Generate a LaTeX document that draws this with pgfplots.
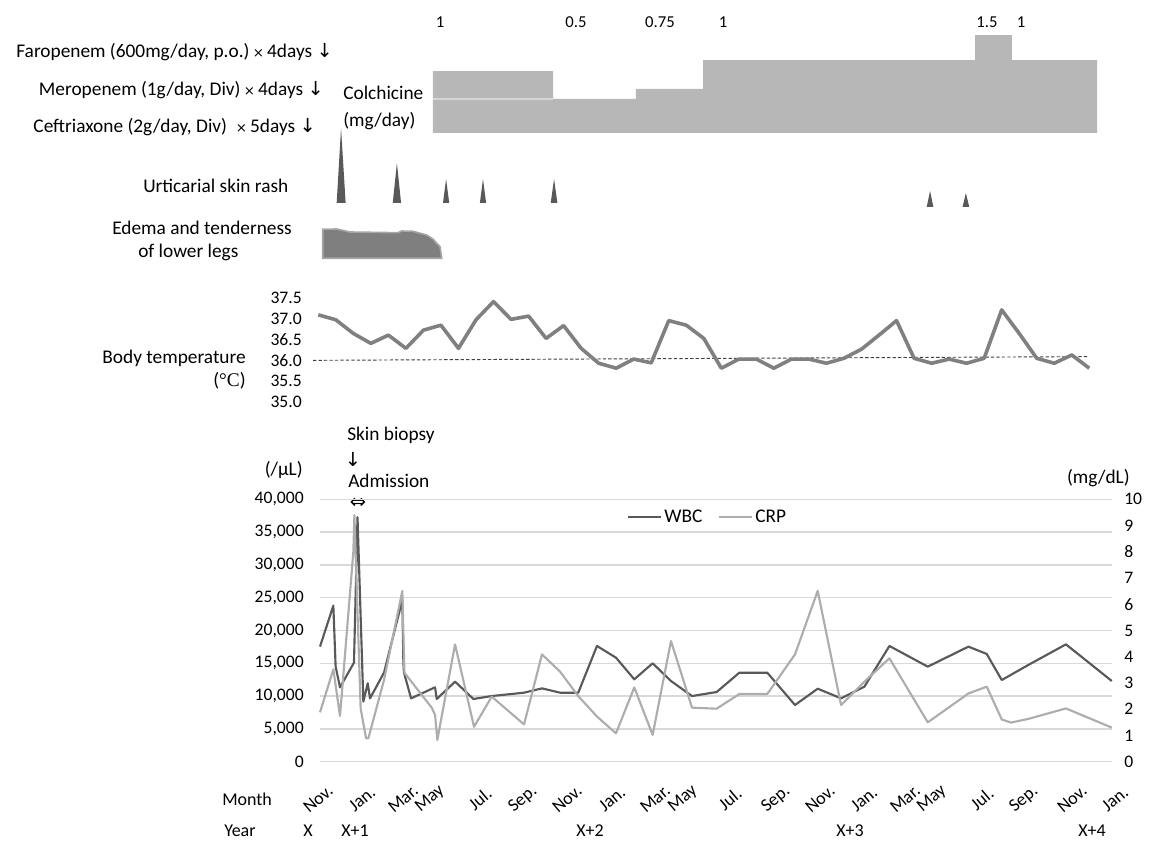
\documentclass[border=0pt]{standalone}
\usepackage{pgfplots}
\pgfplotsset{compat=1.18}
\usepackage{fontspec}
\setmainfont{Carlito}
\newfontfamily\dv{DejaVu Sans}
\newfontfamily\lser{Liberation Serif}
\definecolor{colch}{HTML}{B7B7B7}
\definecolor{colchline}{HTML}{D6D6D6}
\definecolor{rash}{HTML}{595959}
\definecolor{edemaf}{HTML}{7F7F7F}
\definecolor{edemad}{HTML}{A6A6A6}
\definecolor{templ}{HTML}{808080}
\definecolor{trend}{HTML}{404040}
\definecolor{wbc}{HTML}{595959}
\definecolor{crp}{HTML}{ADADAD}
\definecolor{gridc}{HTML}{D9D9D9}
\newcommand\fs{\fontsize{14.5}{17}\selectfont}
\newcommand\tfs{\fontsize{13.2}{15}\selectfont}
\newcommand\ms{\fontsize{13.5}{16}\selectfont}
\newcommand\dfs{\fontsize{12.5}{14}\selectfont}
\begin{document}
\begin{tikzpicture}
\useasboundingbox (0pt,0pt) rectangle (862.5pt,-630.75pt);

\begin{scope}[x=0.75pt,y=-0.75pt]
% ---------- left labels ----------
\node[anchor=east,font=\fs,inner sep=0pt] at (333,52) {Faropenem (600mg/day, p.o.)\,{\dv\fontsize{10}{12}\selectfont ×}\,4days {\dv ↓}};
\node[anchor=east,font=\fs,inner sep=0pt] at (324,90) {Meropenem (1g/day, Div)\,{\dv\fontsize{10}{12}\selectfont ×}\,4days {\dv ↓}};
\node[anchor=east,font=\fs,inner sep=0pt] at (316,127) {Ceftriaxone (2g/day, Div) \ {\dv\fontsize{10}{12}\selectfont ×}\,5days {\dv ↓}};
\node[anchor=west,font=\fs,inner sep=0pt] at (343,93) {Colchicine};
\node[anchor=west,font=\fs,inner sep=0pt] at (343,121) {(mg/day)};
\foreach \x/\t in {440/1,576/0.5,660/0.75,723/1,987/1.5,1021/1}
  \node[font=\dfs,inner sep=0pt] at (\x,22) {\t};
\node[anchor=west,font=\fs,inner sep=0pt] at (143,186) {Urticarial skin rash};
\node[anchor=west,font=\fs,inner sep=0pt] at (112,228) {Edema and tenderness};
\node[anchor=west,font=\fs,inner sep=0pt] at (138,252) {of lower legs};
\node[anchor=east,font=\fs,inner sep=0pt] at (246,358) {Body temperature};
\node[anchor=east,font=\fs,inner sep=0pt] at (246,381) {({\lser °C})};
\node[anchor=west,font=\fs,inner sep=0pt] at (347,435) {Skin biopsy};
\node[font=\fs,inner sep=0pt] at (353,459) {\dv ↓};
\node[anchor=west,font=\fs,inner sep=0pt] at (348,481) {Admission};
\node[font=\fs,inner sep=0pt] at (358,503) {\dv ⇔};
\node[anchor=east,font=\fs,inner sep=0pt] at (303,470) {(/μL)};
\node[anchor=east,font=\fs,inner sep=0pt] at (1130,478) {(mg/dL)};

% ---------- month / year rows ----------
\node[anchor=west,font=\ms,inner sep=0pt] at (222,799) {Month};
\node[anchor=west,font=\ms,inner sep=0pt] at (224,831) {Year};
\foreach \x/\t in {318/Nov.,362/Jan.,403/Mar.,430/May,480/Jul.,523/Sep.,567/Nov.,612/Jan.,655/Mar.,683/May,730/Jul.,776/Sep.,820/Nov.,864/Jan.,905/Mar.,932/May,982/Jul.,1024/Sep.,1072/Nov.,1115/Jan.}
  \node[rotate=40,font=\ms,inner sep=0pt] at (\x,799) {\t};
\foreach \x/\t in {308/X,355/X+1,590/X+2,850/X+3,1092/X+4}
  \node[font=\ms,inner sep=0pt] at (\x,831) {\t};
\end{scope}

% ---------- colchicine ----------
\begin{axis}[at={(240pt,-99.75pt)},anchor=south west,scale only axis,width=594pt,height=76.5pt,
  xmin=0,xmax=38,ymin=0,ymax=1.5,hide axis,clip=false]
\addplot[fill=colch,draw=none] coordinates {(5.42,0)(5.42,0.91)(11.18,0.91)(11.18,0.5)(15.16,0.5)(15.16,0.65)(18.38,0.65)(18.38,1.07)(31.43,1.07)(31.43,1.44)(33.20,1.44)(33.20,1.07)(37.28,1.07)(37.28,0)} \closedcycle;
\addplot[colchline,line width=0.8pt] coordinates {(5.42,0.5)(11.18,0.5)};
\end{axis}

% ---------- rash and edema ----------
\begin{axis}[at={(240pt,-195pt)},anchor=south west,scale only axis,width=594pt,height=105pt,
  xmin=0,xmax=38,ymin=0,ymax=140,hide axis,clip=false]
\addplot[fill=rash,draw=none] coordinates {(0.80,57)(1.01,132)(1.23,57)} --cycle;
\addplot[fill=rash,draw=none] coordinates {(3.49,57)(3.69,97)(3.89,57)} --cycle;
\addplot[fill=rash,draw=none] coordinates {(5.90,57)(6.05,81)(6.20,57)} --cycle;
\addplot[fill=rash,draw=none] coordinates {(7.67,57)(7.82,81)(7.97,57)} --cycle;
\addplot[fill=rash,draw=none] coordinates {(11.07,57)(11.23,81)(11.39,57)} --cycle;
\addplot[fill=rash,draw=none] coordinates {(29.11,53)(29.27,69)(29.43,53)} --cycle;
\addplot[fill=rash,draw=none] coordinates {(30.83,53)(30.99,67)(31.15,53)} --cycle;
\addplot[fill=edemaf,draw=edemad,line width=1.2pt] coordinates {(0.13,1.7)(0.13,30.7)(0.80,31)(1.44,28)(3.74,27.3)(3.92,29)(4.46,28.7)(5.12,25)(5.44,20.7)(5.60,16.7)(5.76,13.3)(5.84,1.7)} --cycle;
\end{axis}

% ---------- body temperature ----------
\begin{axis}[at={(238.725pt,-301.275pt)},anchor=south west,scale only axis,width=578.25pt,height=77.55pt,
  xmin=1,xmax=45,ymin=35,ymax=37.5,axis line style={draw=none},xtick=\empty,
  ytick={35,35.5,36,36.5,37,37.5},major tick length=0pt,clip=false,
  yticklabel style={font=\tfs,inner sep=0pt,xshift=-12.2pt,
    /pgf/number format/.cd,fixed,fixed zerofill,precision=1,assume math mode=true}]
\addplot[trend,line width=0.7pt,dash pattern=on 2.5pt off 1.6pt] coordinates {(0.7,36.0)(45,36.09)};
\addplot[templ,line width=2.7pt,line join=round] coordinates {
(1,37.10)(2,36.98)(3,36.65)(4,36.41)(5,36.61)(6,36.29)(7,36.73)(8,36.85)(9,36.29)(10,36.98)
(11,37.42)(12,36.99)(13,37.07)(14,36.53)(15,36.84)(16,36.29)(17,35.93)(18,35.81)(19,36.03)(20,35.94)
(21,36.96)(22,36.85)(23,36.53)(24,35.81)(25,36.03)(26,36.03)(27,35.81)(28,36.03)(29,36.03)(30,35.93)
(31,36.05)(32,36.27)(33,36.61)(34,36.96)(35,36.05)(36,35.93)(37,36.03)(38,35.93)(39,36.05)(40,37.22)
(41,36.65)(42,36.05)(43,35.93)(44,36.13)(45,35.81)};
\end{axis}

% ---------- WBC ----------
\begin{axis}[at={(240pt,-571.275pt)},anchor=south west,scale only axis,width=594pt,height=196.8pt,
  xmin=0,xmax=38,ymin=0,ymax=40000,axis line style={draw=none},xtick=\empty,
  ytick={0,5000,10000,15000,20000,25000,30000,35000,40000},ymajorgrids,
  grid style={gridc,line width=1.1pt},major tick length=0pt,scaled y ticks=false,clip=false,
  yticklabel style={font=\tfs,inner sep=0pt,xshift=-12pt,
    /pgf/number format/.cd,fixed,1000 sep={,},assume math mode=true}]
\addplot[wbc,line width=1.6pt,line join=round] coordinates {
(0,17540)(0.64,23790)(0.75,14490)(0.96,11340)(1.63,15100)(1.80,37260)(2.08,9150)(2.29,11950)(2.40,9660)
(3.07,13570)(3.95,24650)(4.00,15100)(4.03,13570)(4.37,9660)(5.52,11340)(5.60,9560)(6.48,12200)(7.36,9560)
(8.24,10010)(9.79,10520)(10.65,11180)(11.52,10520)(12.39,10520)(13.29,17640)(14.20,15860)(15.08,12560)
(15.96,15000)(16.84,12300)(17.85,10010)(19.03,10620)(20.12,13570)(21.46,13570)(22.79,8640)(23.88,11130)
(25.00,9660)(26.12,11440)(27.32,17640)(29.16,14490)(31.11,17540)(31.99,16420)(32.71,12450)(33.98,14740)
(35.79,17890)(37.99,12300)};
\end{axis}

% ---------- CRP ----------
\begin{axis}[at={(240pt,-571.275pt)},anchor=south west,scale only axis,width=594pt,height=196.8pt,
  xmin=0,xmax=38,ymin=0,ymax=10,axis y line*=right,axis x line=none,axis line style={draw=none},
  xtick=\empty,ytick={0,1,...,10},major tick length=0pt,clip=false,
  yticklabel style={font=\tfs,inner sep=0pt,xshift=9pt,/pgf/number format/assume math mode=true},
  legend columns=2,legend cell align=left,
  legend image code/.code={\draw[#1] (0pt,0pt) -- (25pt,0pt);},
  legend style={draw=none,fill=none,inner sep=0pt,outer sep=0pt,font=\fs,
    at={(0.3876,0.9326)},anchor=west,nodes={inner sep=1.5pt},
    /tikz/every even column/.append style={column sep=10pt}}]
\addlegendimage{wbc,line width=1.6pt}
\addlegendentry{WBC}
\addplot[crp,line width=1.6pt,line join=round] coordinates {
(0,1.88)(0.64,3.52)(0.96,1.74)(1.60,8.0)(1.65,9.40)(1.95,2.03)(2.21,0.89)(2.32,0.89)(3.07,3.11)(3.95,6.51)
(4.05,3.39)(5.36,2.06)(5.52,1.78)(5.63,0.83)(6.48,4.47)(7.39,1.33)(8.24,2.48)(9.79,1.42)(10.65,4.09)
(11.52,3.43)(12.39,2.50)(13.29,1.72)(14.20,1.08)(15.08,2.83)(15.96,1.02)(16.84,4.60)(17.85,2.06)
(19.03,2.02)(20.12,2.58)(21.46,2.58)(22.79,4.09)(23.88,6.51)(25.00,2.16)(26.12,3.05)(27.32,3.94)
(29.16,1.50)(31.11,2.60)(31.99,2.86)(32.71,1.61)(33.15,1.49)(33.98,1.63)(35.79,2.03)(37.99,1.30)};
\addlegendentry{CRP}
\end{axis}
\end{tikzpicture}
\end{document}
